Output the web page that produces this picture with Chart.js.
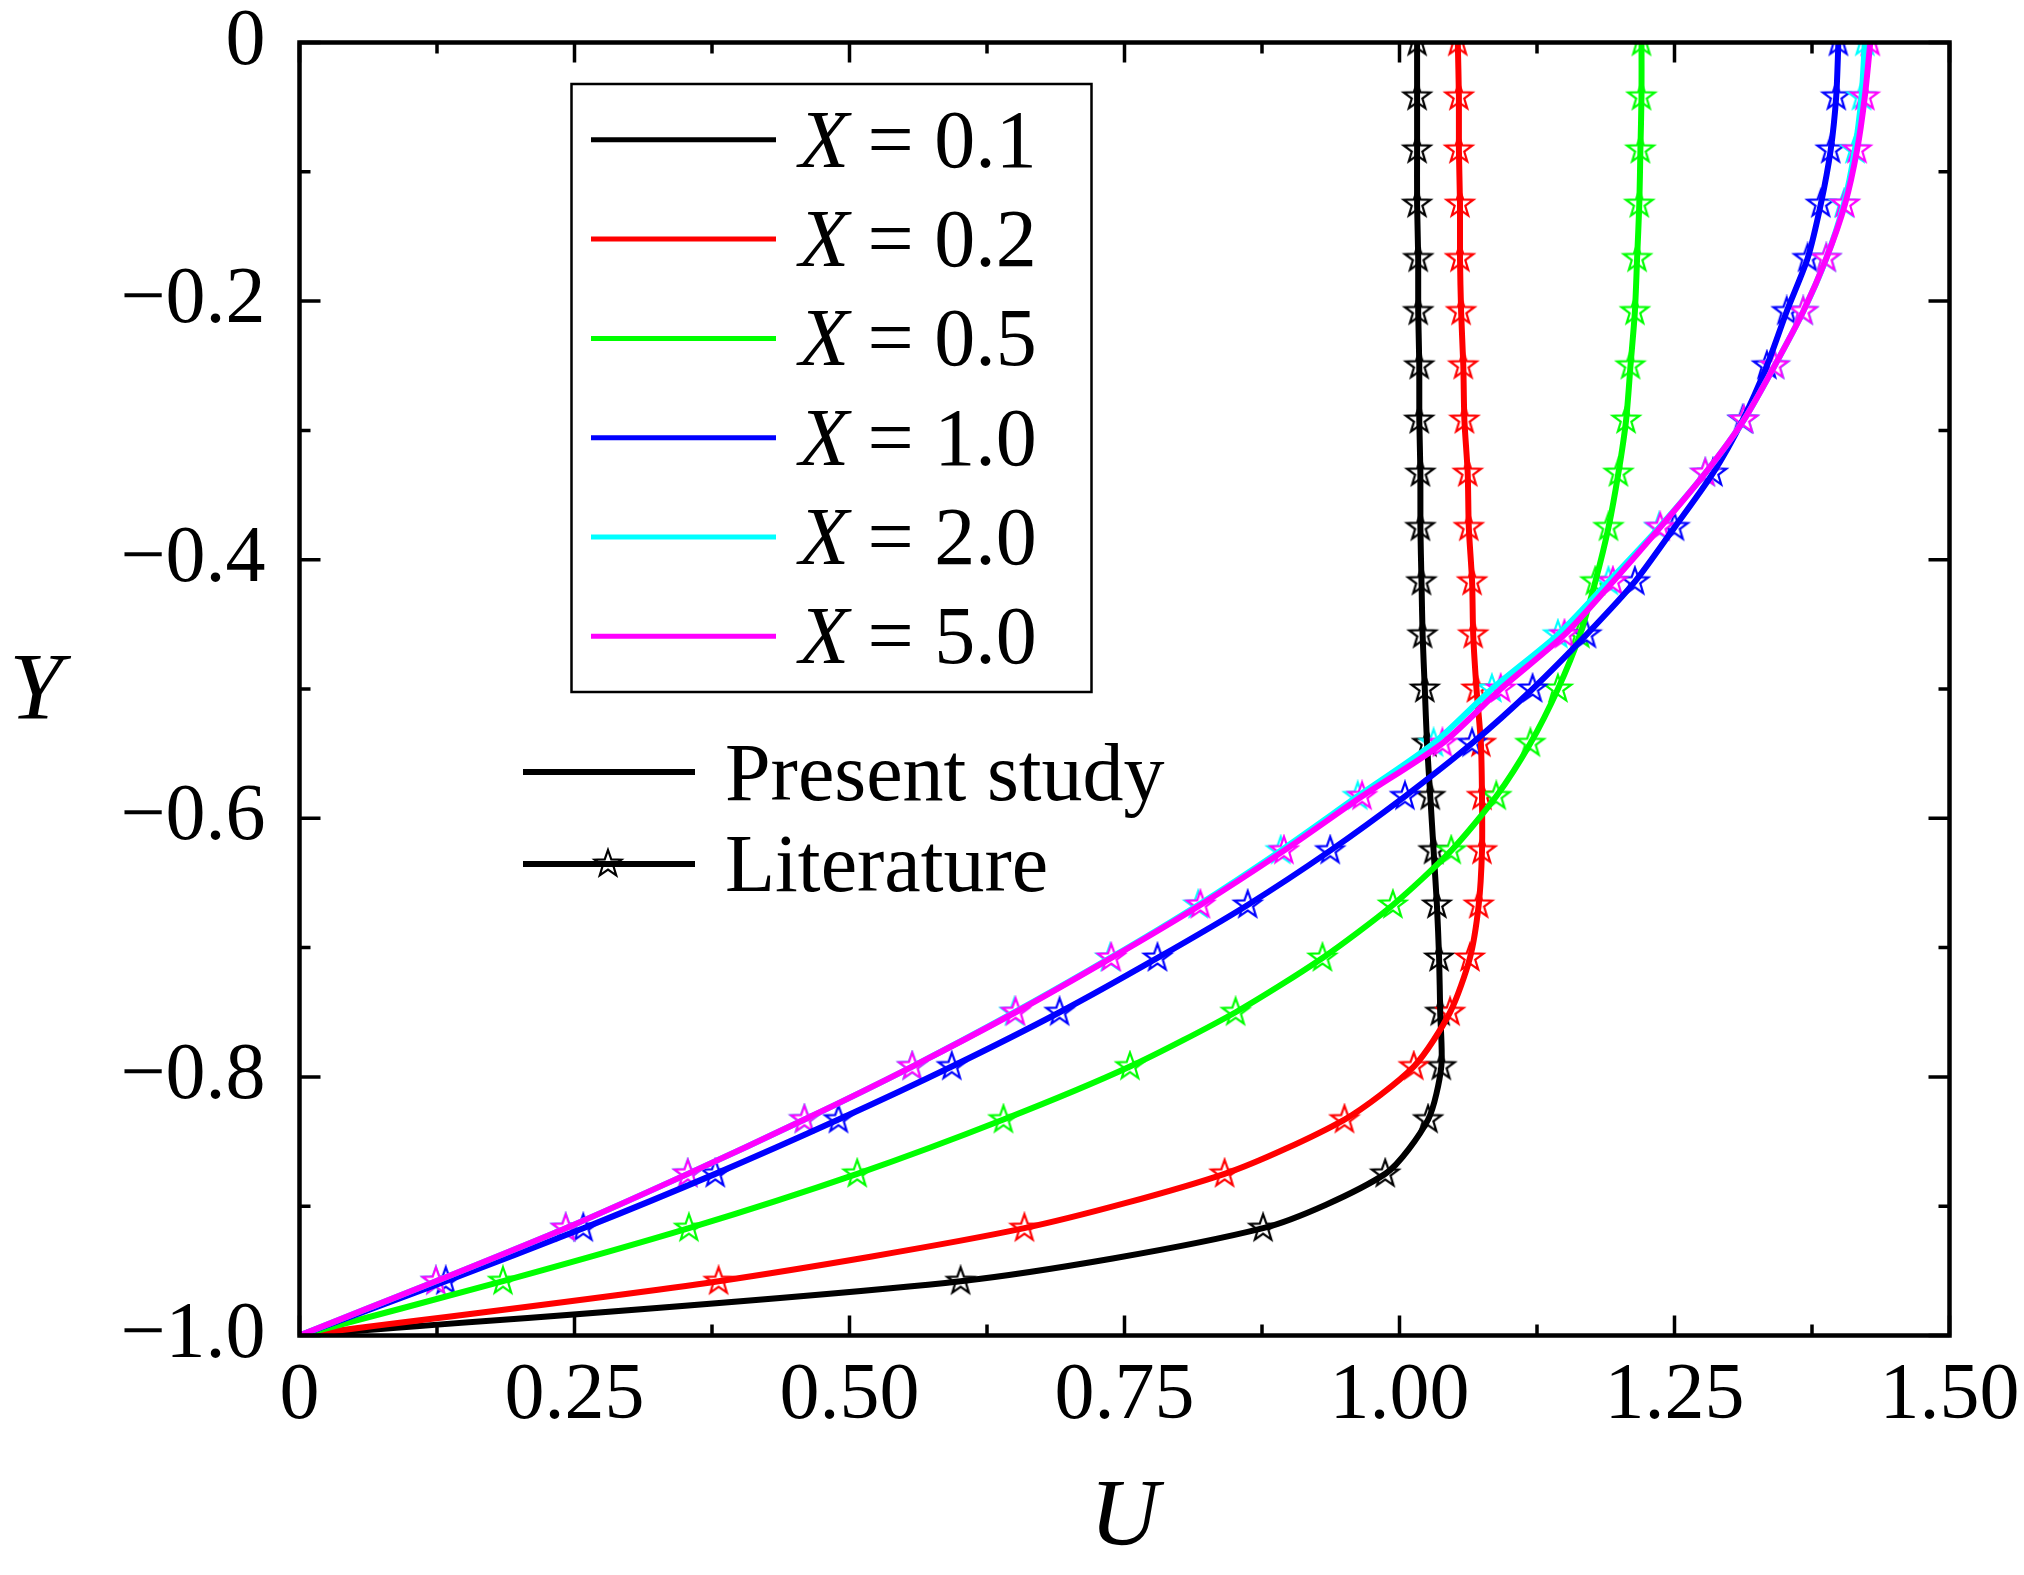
<!DOCTYPE html>
<html><head><meta charset="utf-8">
<script src="https://cdn.jsdelivr.net/npm/chart.js@4.4.1/dist/chart.umd.min.js"></script>
<style>html,body{margin:0;padding:0;background:#fff;}#wrap{width:2024px;height:1575px;position:relative;}</style>
</head><body><div id="wrap"><canvas id="c" width="2024" height="1575"></canvas></div>
<script>
// Y positions of the profile points (wall at -1, top at 0)
const yLevels = [-1.000, -0.958, -0.917, -0.875, -0.833, -0.792, -0.750, -0.708, -0.667, -0.625, -0.583, -0.542,
                 -0.500, -0.458, -0.417, -0.375, -0.333, -0.292, -0.250, -0.208, -0.167, -0.125, -0.083, -0.042, 0.000];
// U profiles at each X station
const uX01 = [0, 0.601, 0.876, 0.987, 1.026, 1.038, 1.037, 1.036, 1.034, 1.031, 1.028, 1.025,
              1.023, 1.021, 1.020, 1.019, 1.019, 1.018, 1.018, 1.017, 1.017, 1.016, 1.016, 1.016, 1.016];
const uX02 = [0, 0.381, 0.659, 0.841, 0.950, 1.013, 1.046, 1.064, 1.072, 1.075, 1.075, 1.074,
              1.070, 1.067, 1.066, 1.063, 1.062, 1.059, 1.058, 1.056, 1.055, 1.055, 1.054, 1.054, 1.053];
const uX05 = [0, 0.185, 0.354, 0.507, 0.640, 0.755, 0.851, 0.930, 0.994, 1.047, 1.088, 1.119,
              1.144, 1.164, 1.178, 1.190, 1.199, 1.206, 1.210, 1.214, 1.216, 1.218, 1.219, 1.220, 1.220];
const uX10 = [0, 0.133, 0.258, 0.378, 0.490, 0.593, 0.691, 0.780, 0.862, 0.937, 1.005, 1.066,
              1.121, 1.170, 1.214, 1.250, 1.285, 1.312, 1.334, 1.352, 1.371, 1.383, 1.392, 1.397, 1.399];
const uX20 = [0, 0.124, 0.242, 0.353, 0.459, 0.557, 0.650, 0.737, 0.817, 0.892, 0.962, 1.031,
              1.084, 1.144, 1.190, 1.236, 1.278, 1.313, 1.341, 1.367, 1.388, 1.404, 1.414, 1.420, 1.423];
const uX50 = [0, 0.124, 0.242, 0.353, 0.459, 0.557, 0.651, 0.738, 0.819, 0.895, 0.966, 1.039,
              1.092, 1.150, 1.194, 1.237, 1.278, 1.313, 1.341, 1.367, 1.388, 1.405, 1.416, 1.423, 1.428];

const seriesNames = ['0.1', '0.2', '0.5', '1.0', '2.0', '5.0'];
const seriesColors = ['#000000', '#ff0000', '#00ff00', '#0000ff', '#00ffff', '#ff00ff'];
const seriesU = [uX01, uX02, uX05, uX10, uX20, uX50];

const xTickLabels = ['0', '0.25', '0.50', '0.75', '1.00', '1.25', '1.50'];
const yTickLabels = ['\u22121.0', '\u22120.8', '\u22120.6', '\u22120.4', '\u22120.2', '0'];

const SERIF = '"Liberation Serif", "Times New Roman", serif';

function makeStar(color) {
  const c = document.createElement('canvas');
  c.width = 34; c.height = 34;
  const g = c.getContext('2d');
  g.beginPath();
  const R = 14, r = 5.6, cx = 17, cy = 17;
  for (let i = 0; i < 10; i++) {
    const a = -Math.PI / 2 + i * Math.PI / 5;
    const rr = i % 2 === 0 ? R : r;
    const px = cx + rr * Math.cos(a), py = cy + rr * Math.sin(a);
    if (i === 0) g.moveTo(px, py); else g.lineTo(px, py);
  }
  g.closePath();
  g.fillStyle = '#ffffff';
  g.fill();
  g.lineWidth = 2.2;
  g.lineJoin = 'miter';
  g.strokeStyle = color;
  g.stroke();
  return c;
}
const starImgs = seriesColors.map(makeStar);

const datasets = [];
seriesU.forEach((u, i) => {
  const pts = yLevels.map((y, k) => ({x: u[k], y: y}));
  datasets.push({
    label: 'X = ' + seriesNames[i] + ' (present)',
    data: pts,
    showLine: true,
    borderColor: seriesColors[i],
    backgroundColor: seriesColors[i],
    borderWidth: 6,
    pointRadius: 0,
    tension: 0.25,
    order: 100 - i
  });
  datasets.push({
    label: 'X = ' + seriesNames[i] + ' (literature)',
    data: pts.slice(1),
    showLine: false,
    pointStyle: starImgs[i],
    pointRadius: 14,
    borderColor: seriesColors[i],
    backgroundColor: '#ffffff',
    order: 200 - i
  });
});

const framePlugin = {
  id: 'frame',
  afterDatasetsDraw(chart) {
    const ctx = chart.ctx, a = chart.chartArea;
    const xs = chart.scales.x, ys = chart.scales.y;
    ctx.save();
    ctx.strokeStyle = '#000';
    ctx.lineWidth = 3.5;
    ctx.beginPath();
    for (let k = 0; k <= 12; k++) {
      const px = xs.getPixelForValue(k * 0.125);
      const len = k % 2 === 0 ? 20 : 11;
      ctx.moveTo(px, a.bottom); ctx.lineTo(px, a.bottom - len);
      ctx.moveTo(px, a.top); ctx.lineTo(px, a.top + len);
    }
    for (let k = 0; k <= 10; k++) {
      const py = ys.getPixelForValue(-k * 0.1);
      const len = k % 2 === 0 ? 21 : 11;
      ctx.moveTo(a.left, py); ctx.lineTo(a.left + len, py);
      ctx.moveTo(a.right, py); ctx.lineTo(a.right - len, py);
    }
    ctx.stroke();
    ctx.lineWidth = 4.5;
    ctx.strokeRect(a.left, a.top, a.right - a.left, a.bottom - a.top);
    ctx.restore();
  },
  afterDraw(chart) {
    const ctx = chart.ctx, a = chart.chartArea;
    ctx.save();
    // axis titles
    ctx.fillStyle = '#000';
    ctx.textAlign = 'center';
    ctx.textBaseline = 'alphabetic';
    ctx.font = 'italic 96px ' + SERIF;
    ctx.fillText('Y', 36, 719);
    ctx.fillText('U', (a.left + a.right) / 2, 1545);

    // legend box 1
    ctx.lineWidth = 2.5;
    ctx.strokeStyle = '#000';
    ctx.strokeRect(571.5, 84, 520, 608);
    seriesNames.forEach((name, i) => {
      const ly = 139.8 + 99.3 * i;
      ctx.strokeStyle = seriesColors[i];
      ctx.lineWidth = 5;
      ctx.beginPath(); ctx.moveTo(591, ly); ctx.lineTo(776, ly); ctx.stroke();
      ctx.fillStyle = '#000';
      ctx.textAlign = 'left';
      ctx.font = 'italic 82px ' + SERIF;
      ctx.fillText('X', 799, ly + 27);
      const w = ctx.measureText('X').width;
      ctx.font = '82px ' + SERIF;
      ctx.fillText(' = ' + name, 797 + w, ly + 27);
    });

    // legend 2
    ctx.drawImage(starImgs[0], 608 - 17, 864 - 17);
    ctx.strokeStyle = '#000';
    ctx.lineWidth = 6;
    ctx.beginPath(); ctx.moveTo(523, 772); ctx.lineTo(695, 772); ctx.stroke();
    ctx.beginPath(); ctx.moveTo(523, 864); ctx.lineTo(695, 864); ctx.stroke();
    ctx.fillStyle = '#000';
    ctx.font = '82px ' + SERIF;
    ctx.textAlign = 'left';
    ctx.fillText('Present study', 725, 800);
    ctx.fillText('Literature', 725, 891);
    ctx.restore();
  }
};

new Chart(document.getElementById('c'), {
  type: 'scatter',
  data: {datasets: datasets},
  options: {
    responsive: false,
    devicePixelRatio: 1,
    animation: false,
    layout: {padding: {left: 0, top: 42.5, right: 74.5, bottom: 0}},
    plugins: {legend: {display: false}, tooltip: {enabled: false}},
    scales: {
      x: {
        type: 'linear', min: 0, max: 1.5,
        grid: {display: false, drawTicks: false},
        border: {display: false},
        ticks: {
          stepSize: 0.25, autoSkip: false, maxRotation: 0, padding: 0,
          color: '#000',
          font: {family: SERIF, size: 80, lineHeight: 1.54},
          callback: (v, i) => xTickLabels[i]
        },
        afterFit: s => { s.height = 239.5; }
      },
      y: {
        type: 'linear', min: -1, max: 0,
        grid: {display: false, drawTicks: false},
        border: {display: false},
        ticks: {
          stepSize: 0.2, autoSkip: false, padding: 34,
          color: '#000',
          font: {family: SERIF, size: 80, lineHeight: 0.2},
          callback: (v, i) => yTickLabels[i]
        },
        afterFit: s => { s.width = 299.5; }
      }
    }
  },
  plugins: [framePlugin]
});
</script>
</body></html>
